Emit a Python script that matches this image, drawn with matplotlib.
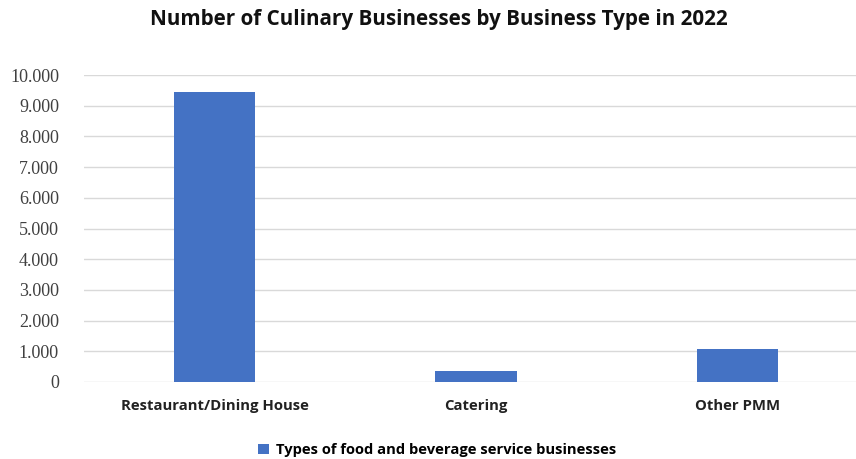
import matplotlib.pyplot as plt
from matplotlib.ticker import FuncFormatter

categories = ['Restaurant/Dining House', 'Catering', 'Other PMM']
counts = [9450, 350, 1070]
series_name = 'Types of food and beverage service businesses'
title = 'Number of Culinary Businesses by Business Type in 2022'

W, H = 856, 459
fig = plt.figure(figsize=(W / 100, H / 100), dpi=100)
ax = fig.add_axes([84 / W, 77 / H, 784 / W, 307 / H])

x = range(len(categories))
ax.bar(x, counts, width=0.31, color='#4472C4', label=series_name, zorder=3)

ax.set_xlim(-0.5, 2.5)
ax.set_ylim(0, 10000)
ax.set_yticks(range(0, 10001, 1000))
ax.yaxis.set_major_formatter(FuncFormatter(lambda v, p: f'{int(v):,}'.replace(',', '.')))
ax.grid(axis='y', color='#d9d9d9', linewidth=1, zorder=0)
for s in ax.spines.values():
    s.set_visible(False)
ax.tick_params(axis='both', length=0)
ax.tick_params(axis='y', pad=18)
for lab in ax.get_yticklabels():
    lab.set_fontfamily('Liberation Serif')
    lab.set_fontsize(13)
    lab.set_color('#404040')

ax.set_xticks(list(x))
ax.set_xticklabels(categories, fontfamily='Open Sans', fontweight='bold', fontsize=10.7, color='#222222')
ax.tick_params(axis='x', pad=12)

fig.text(0.513, 1 - 20 / H, title, ha='center', va='center', fontfamily='Open Sans',
         fontweight='bold', fontsize=14.9, color='#111111')

fig.legend(loc='center', bbox_to_anchor=(0.511, 1 - 450 / H), frameon=False,
           prop={'family': 'Open Sans', 'weight': 'bold', 'size': 10.6},
           handlelength=0.7, handleheight=0.7, handletextpad=0.5)

fig.savefig('out.png', dpi=100)
